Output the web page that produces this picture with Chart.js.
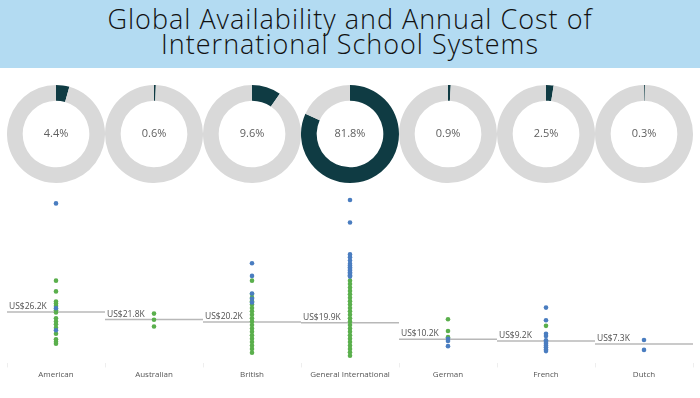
<!DOCTYPE html>
<html>
<head>
<meta charset="utf-8">
<script src="https://cdn.jsdelivr.net/npm/chart.js@4.4.1/dist/chart.umd.min.js"></script>
<style>
  body { margin: 0; width: 700px; height: 398px; background: #fff; position: relative; overflow: hidden; }
  #banner {
    position: absolute; left: 0; top: 0; width: 700px; height: 68px; background: #b3dbf2;
    font-family: "Open Sans", sans-serif; font-weight: 300; font-size: 27px; line-height: 25px;
    letter-spacing: 1px; color: #111; text-align: center; padding-top: 6px; box-sizing: border-box;
  }
  #donuts { position: absolute; left: 7px; top: 82px; display: flex; }
  #donuts canvas { display: block; }
  #strip { position: absolute; left: 0; top: 181px; }
</style>
</head>
<body>
<div id="banner">Global Availability and Annual Cost of<br>International School Systems</div>
<div id="donuts"></div>
<canvas id="strip" width="700" height="217"></canvas>
<script>
// school systems and their share of all schools (%)
const categories = ['American', 'Australian', 'British', 'General International', 'German', 'French', 'Dutch'];
const shares = [4.4, 0.6, 9.6, 81.8, 0.9, 2.5, 0.3];

// average annual fee per system (thousand US$)
const meanFees = [26.2, 21.8, 20.2, 19.9, 10.2, 9.2, 7.3];

// individual school fees (thousand US$), one list per system
const blueFees = [
  [89.8, 28.4, 15.4],
  [],
  [54.7, 47.3, 37.0, 33.9, 31.7],
  [91.8, 78.6, 59.9, 58.3, 56.3, 54.4, 53.4, 52.4, 51.4, 50.4, 49.5, 48.6, 47.7, 46.9],
  [10.4, 9.1, 6.1],
  [28.7, 21.3, 13.4, 12.0, 9.5, 8.5, 7.5, 6.5, 5.5, 4.2, 3.2],
  [9.7, 3.9]
];
const greenFees = [
  [44.5, 38.2, 32.3, 31.1, 29.7, 27.2, 25.8, 22.5, 20.5, 18.9, 16.9, 13.4, 10.1, 8.7, 7.5],
  [25.2, 21.6, 17.6],
  [44.5, 36.7, 34.5, 32.5, 30.5, 28.5, 26.5, 24.5, 22.5, 20.5, 18.5, 16.5, 14.5, 12.5, 10.5, 8.5, 6.5, 4.5, 2.2],
  [44.5, 42.5, 40.5, 38.5, 36.5, 34.5, 32.5, 30.5, 28.5, 26.5, 24.5, 22.5, 20.5, 18.5, 16.5, 14.5, 12.5, 10.5, 8.5, 6.5, 4.5, 2.5, 0.5],
  [21.9, 15.0, 11.4],
  [18.0],
  []
];

Chart.defaults.font.family = '"Open Sans", sans-serif';
Chart.defaults.animation = false;

const centerText = {
  id: 'centerText',
  afterDraw(chart) {
    const { ctx, chartArea } = chart;
    ctx.save();
    ctx.font = '11px "Open Sans", sans-serif';
    ctx.fillStyle = '#606060';
    ctx.textAlign = 'center';
    ctx.textBaseline = 'middle';
    ctx.fillText(chart.data.datasets[0].data[0].toFixed(1) + '%',
      (chartArea.left + chartArea.right) / 2, (chartArea.top + chartArea.bottom) / 2);
    ctx.restore();
  }
};

const donutBox = document.getElementById('donuts');
shares.forEach((share) => {
  const c = document.createElement('canvas');
  c.width = 98; c.height = 104;
  donutBox.appendChild(c);
  new Chart(c, {
    type: 'doughnut',
    data: {
      labels: ['share', 'rest'],
      datasets: [{
        data: [share, 100 - share],
        backgroundColor: ['#0f3b43', '#d9d9d9'],
        borderWidth: 0
      }]
    },
    options: {
      responsive: false,
      cutout: '68%',
      plugins: { legend: { display: false }, tooltip: { enabled: false } }
    },
    plugins: [centerText]
  });
});

// average line for each system, across its category band
const meanLines = {
  id: 'meanLines',
  beforeDatasetsDraw(chart) {
    const { ctx, scales: { x, y } } = chart;
    const half = (x.getPixelForValue(1) - x.getPixelForValue(0)) / 2;
    ctx.save();
    meanFees.forEach((v, i) => {
      const cx = x.getPixelForValue(i), py = y.getPixelForValue(v);
      ctx.strokeStyle = '#b8b8b8';
      ctx.lineWidth = 1.5;
      ctx.beginPath();
      ctx.moveTo(cx - half, py);
      ctx.lineTo(cx + half, py);
      ctx.stroke();
      ctx.font = '8.5px "Open Sans", sans-serif';
      ctx.fillStyle = '#505050';
      ctx.textAlign = 'left';
      ctx.textBaseline = 'bottom';
      ctx.fillText('US$' + v.toFixed(1) + 'K', cx - half + 2, py - 1);
    });
    ctx.restore();
  }
};

const toPoints = (lists) => lists.flatMap((vals, i) => vals.map((v) => ({ x: categories[i], y: v })));

new Chart(document.getElementById('strip'), {
  type: 'scatter',
  data: {
    datasets: [
      { label: 'blue', data: toPoints(blueFees), backgroundColor: '#4a7dc0', borderWidth: 0, pointRadius: 2.3 },
      { label: 'green', data: toPoints(greenFees), backgroundColor: '#5aaf4c', borderWidth: 0, pointRadius: 2.3 }
    ]
  },
  options: {
    responsive: false,
    layout: { padding: { left: 7, right: 7, top: 5, bottom: 15 } },
    scales: {
      x: {
        type: 'category',
        labels: categories,
        offset: true,
        grid: { offset: true, drawOnChartArea: false, tickLength: 4, color: '#eeeeee' },
        border: { display: false },
        ticks: { font: { size: 8 }, color: '#555', padding: 3 }
      },
      y: { display: false, min: -4, max: 100 }
    },
    plugins: { legend: { display: false }, tooltip: { enabled: false } }
  },
  plugins: [meanLines]
});
</script>
</body>
</html>
